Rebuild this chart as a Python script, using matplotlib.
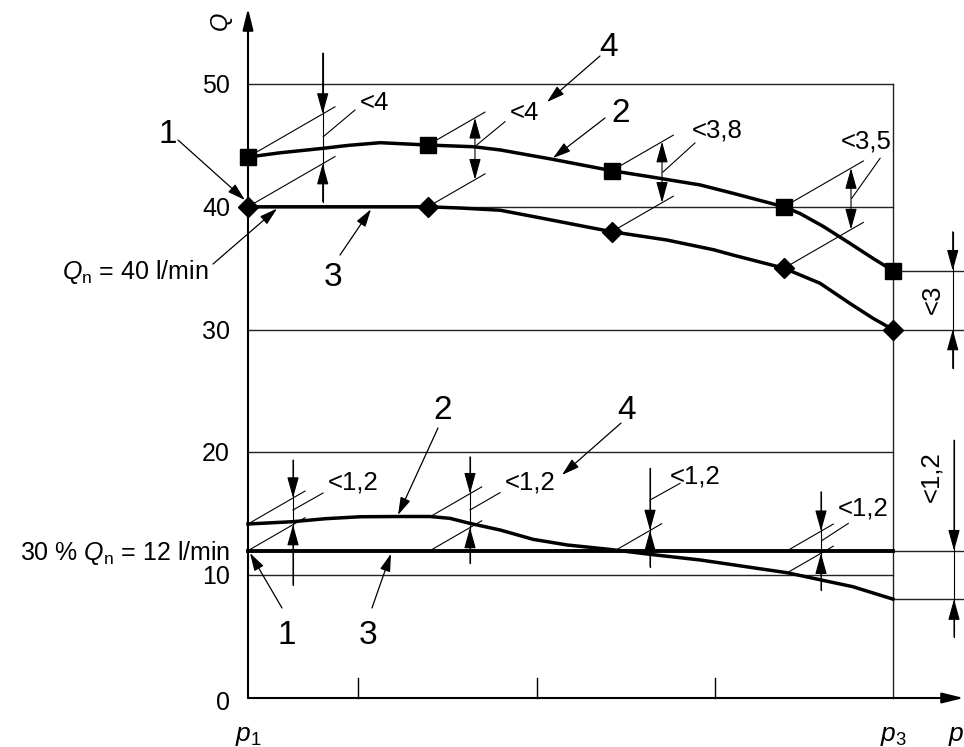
import matplotlib
matplotlib.use("Agg")
import matplotlib.pyplot as plt
from matplotlib.patches import ArrowStyle
import numpy as np

plt.rcParams['font.family'] = ['Liberation Sans', 'DejaVu Sans']
plt.rcParams['mathtext.fontset'] = 'custom'
plt.rcParams['mathtext.rm'] = 'Liberation Sans'
plt.rcParams['mathtext.it'] = 'Liberation Sans:italic'

# ---------------- data ----------------
marker_x = [0, 27.9, 56.4, 83.1, 100]
upper_markers = [44.05, 45.03, 42.94, 40.0, 34.8]     # curve 2 (nominal flow)
lower_markers = [40.0, 40.0, 37.97, 35.0, 30.0]       # curve 3 (nominal flow)

upper_x = [0, 5.0, 11.6, 15.5, 20.5, 27.9, 35.0, 39.1, 47.3, 56.4, 62.3, 70.1, 75.2,
           83.1, 85.6, 89.2, 93.3, 96.9, 100]
upper_q = [44.05, 44.4, 44.76, 45.0, 45.22, 45.03, 44.89, 44.63, 43.86, 42.94, 42.45, 41.78, 41.1,
           40.0, 39.45, 38.4, 37.03, 35.8, 34.8]
lower_x = [0, 27.9, 32.9, 39.1, 45.3, 56.4, 64.9, 72.2, 75.2, 83.1, 88.7, 93.3, 96.9, 100]
lower_q = [40.0, 40.0, 39.9, 39.72, 39.1, 37.97, 37.3, 36.5, 36.07, 35.0, 33.77, 32.14, 30.92, 30.0]

low2_x = [0, 7.0, 12.0, 17.4, 23.6, 28.2, 31.3, 34.4, 39.1, 44.2, 49.5, 56.1, 62.3, 70.1, 83.6, 93.8, 100]
low2_q = [14.17, 14.36, 14.6, 14.76, 14.78, 14.78, 14.63, 14.22, 13.68, 12.92, 12.46, 12.1, 11.7, 11.24,
          10.2, 9.06, 8.05]
low3_x = [0, 100]
low3_q = [12.0, 12.0]

grid_levels = [10, 20, 30, 40, 50]
ytick_values = [0, 10, 20, 30, 40, 50]
xtick_positions = [17.05, 44.8, 72.4]

# ---------------- figure / geometry ----------------
PX_X = 6.45     # pixels per x unit
PX_Y = 12.28    # pixels per Q unit
fig = plt.figure(figsize=(9.64, 7.47), dpi=100)
ax = fig.add_axes([0, 0, 1, 1])
XMIN, XMAX = -248 / PX_X, 716 / PX_X
YMIN, YMAX = -49 / PX_Y, 698 / PX_Y
ax.set_xlim(XMIN, XMAX)
ax.set_ylim(YMIN, YMAX)
ax.axis('off')

S = np.tan(np.radians(30)) * PX_X / PX_Y   # slope of 30 deg extension lines
K = 'black'
THIN = 0.8
GRID = 1.0
DIMFS = 18.5


def ctext(x, yc, s, size, **kw):
    """place text so that the cap-height centre sits at yc"""
    off = 0.358 * size * 100 / 72 / PX_Y
    ax.text(x, yc - off, s, fontsize=size, va='baseline', color=K, **kw)


def arrow(tip, start, hl=13, hw=3.6, lw=THIN, style='-|>'):
    ax.annotate('', xy=tip, xytext=start,
                arrowprops=dict(arrowstyle=ArrowStyle(style, head_length=hl, head_width=hw),
                                mutation_scale=1, lw=lw, color=K,
                                shrinkA=0, shrinkB=0))


def leader(tip, start):
    arrow(tip, start, hl=10.8, hw=3.2, lw=0.9)


def ext(x0, y0, x1):
    ax.plot([x0, x1], [y0, y0 + S * (x1 - x0)], color=K, lw=THIN)


def dim_outside(x, top, bottom, tip_top, tip_bot):
    ax.plot([x, x], [bottom, top], color=K, lw=THIN)
    arrow((x, tip_top), (x, top))
    arrow((x, tip_bot), (x, bottom))


def line(x0, y0, x1, y1, lw=THIN):
    ax.plot([x0, x1], [y0, y1], color=K, lw=lw)


# ---------------- grid / frame ----------------
for g in grid_levels:
    ax.plot([0, 100], [g, g], color='#222222', lw=GRID)
ax.plot([100, 100], [0, 50], color='#222222', lw=GRID)
for v in [upper_markers[-1], lower_markers[-1], low3_q[-1], low2_q[-1]]:
    ax.plot([100, XMAX], [v, v], color='#222222', lw=GRID)

# axes with arrows
arrow((0, 56.16), (0, 0), hl=13, hw=3.2, lw=1.5)
arrow((XMAX - 0.05, 0), (0, 0), hl=13, hw=3.2, lw=1.5)
for t in xtick_positions:
    ax.plot([t, t], [0, 20 / PX_Y], color=K, lw=GRID)

for v in ytick_values:
    yc = v if v else -0.25
    ctext(-2.79, yc, str(v), 18, ha='right')

ax.text(-4.34, 55.13, 'Q', fontsize=17, fontstyle='italic', rotation=90,
        ha='center', va='center', color=K)
ax.text(-2.0, -3.54, r'$p_{\mathrm{1}}$', fontsize=19, ha='left', va='baseline', color=K)
ax.text(98.0, -3.54, r'$p_{\mathrm{3}}$', fontsize=19, ha='left', va='baseline', color=K)
ax.text(108.6, -3.54, 'p', fontsize=19, fontstyle='italic', ha='left', va='baseline', color=K)

# ---------------- curves ----------------
ax.plot(upper_x, upper_q, color=K, lw=2.5, zorder=4, solid_joinstyle='round')
ax.plot(lower_x, lower_q, color=K, lw=2.5, zorder=4, solid_joinstyle='round')
ax.plot(low2_x, low2_q, color=K, lw=2.5, zorder=4, solid_joinstyle='round')
ax.plot(low3_x, low3_q, color=K, lw=2.8, zorder=4)
ax.plot(marker_x, upper_markers, ls='none', marker='s', ms=11.5, color=K, zorder=5)
ax.plot(marker_x, lower_markers, ls='none', marker='D', ms=10.3, color=K, zorder=5)

# ---------------- upper dimensions ----------------
# dim 1 (<4)
x = 11.58
ext(marker_x[0], upper_markers[0], 13.49)
ext(marker_x[0], lower_markers[0], 13.49)
dim_outside(x, 52.52, 40.42, upper_markers[0] + S * x, lower_markers[0] + S * x)
line(11.67, 45.71, 16.59, 47.88)
ax.text(17.36, 47.88, '<4', fontsize=DIMFS, va='baseline', color=K)

# dim 2 (<4)
x = 35.19
ext(marker_x[1], upper_markers[1], 36.74)
ext(marker_x[1], lower_markers[1], 36.74)
arrow((x, upper_markers[1] + S * (x - marker_x[1])), (x, lower_markers[1] + S * (x - marker_x[1])),
      style='<|-|>')
line(35.46, 45.03, 39.84, 46.93)
ax.text(40.62, 47.07, '<4', fontsize=DIMFS, va='baseline', color=K)

# dim 3 (<3,8)
x = 64.19
ext(marker_x[2], upper_markers[2], 65.94)
ext(marker_x[2], lower_markers[2], 65.94)
arrow((x, upper_markers[2] + S * (x - marker_x[2])), (x, lower_markers[2] + S * (x - marker_x[2])),
      style='<|-|>')
line(64.34, 42.83, 69.3, 45.2)
ax.text(68.84, 45.68, '<3,8', fontsize=DIMFS, va='baseline', color=K)

# dim 4 (<3,5)
x = 93.49
ext(marker_x[3], upper_markers[3], 95.4)
ext(marker_x[3], lower_markers[3], 95.4)
arrow((x, upper_markers[3] + S * (x - marker_x[3])), (x, lower_markers[3] + S * (x - marker_x[3])),
      style='<|-|>')
line(93.6, 40.69, 98.0, 43.95)
ax.text(95.92, 44.71, '<3,5', fontsize=DIMFS, va='baseline', ha='center', color=K)

# right dim (<3)
dim_outside(109.26, 37.97, 26.85, upper_markers[-1], lower_markers[-1])
ax.text(106.12, 32.49, '<3', fontsize=DIMFS, rotation=90, ha='center', va='center', color=K)

# ---------------- lower dimensions ----------------
x = 6.98
ext(0, low2_q[0], 8.84)
ext(0, low3_q[0], 8.84)
dim_outside(x, 19.38, 9.2, low2_q[0] + S * x, low3_q[0] + S * x)
line(6.98, 15.31, 11.63, 16.69)
ax.text(12.4, 16.94, '<1,2', fontsize=DIMFS, va='baseline', color=K)

x = 34.42
ext(28.22, 14.76, 36.23)
ext(28.22, 12.0, 36.23)
dim_outside(x, 19.65, 10.97, 14.76 + S * (x - 28.22), 12.0 + S * (x - 28.22))
line(34.42, 15.31, 39.07, 16.72)
ax.text(39.84, 16.94, '<1,2', fontsize=DIMFS, va='baseline', color=K)

x = 62.33
ext(56.9, 12.0, 64.14)
tip = 12.0 + S * (x - 56.9)
dim_outside(x, 18.7, 10.69, tip, tip)
line(62.33, 16.12, 66.98, 17.48)
ax.text(65.43, 17.43, '<1,2', fontsize=DIMFS, va='baseline', color=K)

x = 88.84
ext(83.61, 12.0, 90.74)
ext(83.61, 10.2, 90.74)
dim_outside(x, 16.8, 8.79, 12.0 + S * (x - 83.61), 10.2 + S * (x - 83.61))
line(88.95, 12.81, 93.07, 14.22)
ax.text(91.47, 14.9, '<1,2', fontsize=DIMFS, va='baseline', color=K)

dim_outside(109.46, 21.0, 4.97, low3_q[-1], low2_q[-1])
ax.text(105.9, 18.0, '<1,2', fontsize=DIMFS, rotation=90, ha='center', va='center', color=K)

# ---------------- numbered labels ----------------
ctext(-12.4, 46.17, '1', 24, ha='center'); leader((-0.47, 40.55), (-10.85, 45.44))
ctext(13.2, 34.5, '3', 24, ha='center');   leader((19.07, 39.8), (14.26, 36.07))
ctext(55.97, 53.26, '4', 24, ha='center'); leader((46.36, 48.53), (54.57, 52.28))
ctext(57.83, 47.88, '2', 24, ha='center'); leader((47.29, 43.97), (55.35, 47.23))
ctext(30.23, 23.7, '2', 24, ha='center');  leader((23.26, 14.9), (29.46, 21.99))
ctext(58.76, 23.7, '4', 24, ha='center');  leader((48.68, 18.16), (57.83, 22.39))
ctext(6.05, 5.37, '1', 24, ha='center');   leader((0.31, 11.8), (5.27, 7.33))
ctext(18.6, 5.37, '3', 24, ha='center');   leader((22.17, 11.75), (19.22, 7.33))

ctext(-6.2, 34.85, r'$Q_{\mathrm{n}}$ = 40 l/min', 18, ha='right')
leader((4.5, 39.85), (-5.43, 35.34))
ctext(-2.79, 11.97, r'30 % $Q_{\mathrm{n}}$ = 12 l/min', 18, ha='right')

fig.savefig('out.png', dpi=100)
